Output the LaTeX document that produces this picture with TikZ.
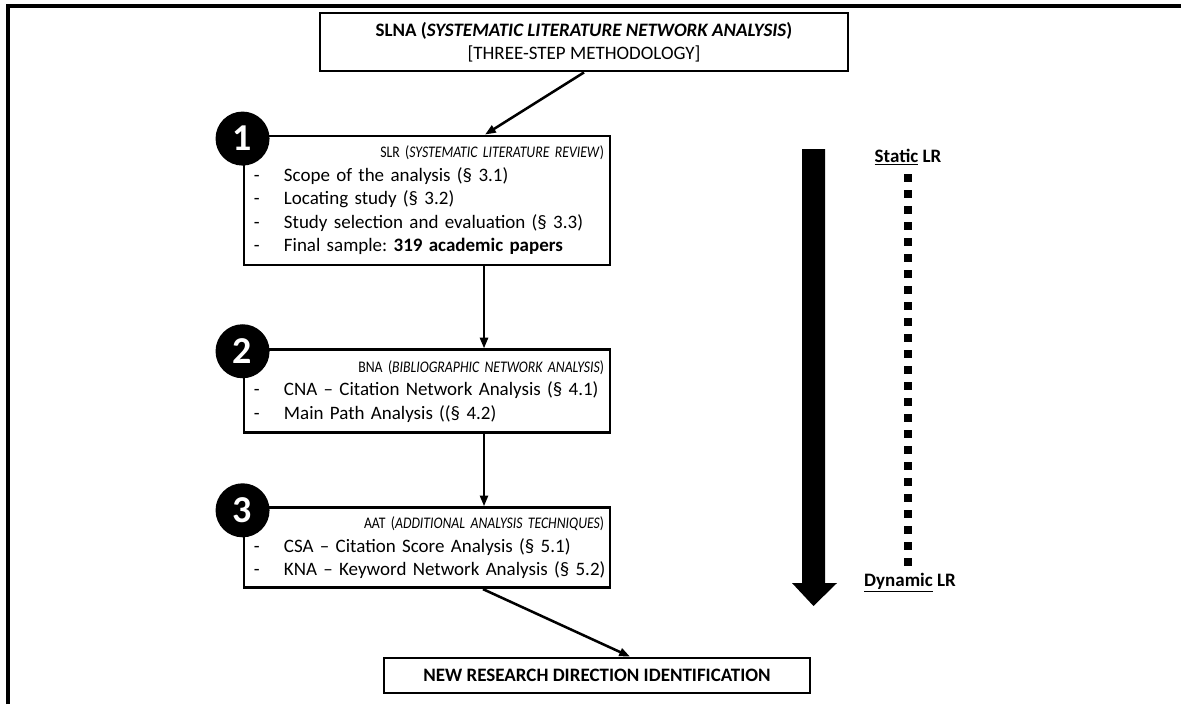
\documentclass[tikz,border=0pt]{standalone}
\usepackage{fontspec}
\setmainfont{Carlito}
\usepackage{tikz}
\usetikzlibrary{arrows.meta, positioning}
\frenchspacing

\newcommand{\stepitem}[1]{\makebox[0.75cm][l]{-}\mbox{#1}}
\newcommand{\stephead}[1]{\makebox[\linewidth][r]{\scalebox{0.85}[1]{\fontsize{11.5}{16.7}\selectfont #1}\hspace*{-0.1cm}}}

\begin{document}
\begin{tikzpicture}[
    x=0.025cm, y=-0.025cm,
    node distance = 2cm,
    font=\fontsize{13.5}{16.7}\selectfont,
    stepbox/.style = {rectangle, draw, line width=2pt, text width=8.65cm, inner xsep=0.25cm, inner ysep=0pt, align=left},
    titlebox/.style = {rectangle, draw, line width=2pt, align=center, inner sep=0pt},
    numdot/.style = {circle, fill=black, text=white, minimum size=1.35cm, inner sep=0pt, font=\fontsize{27}{27}\selectfont\bfseries},
    arrow/.style = {line width=1.8pt, ->, >={Triangle[length=0.27cm, width=0.2cm]}},
    dotline/.style = {line width=0.2cm, dash pattern=on 0.2cm off 0.2cm}
]
    \useasboundingbox (0,0) rectangle (1181,704);

    % Frame
    \draw[line width=2.2pt] (8,704) -- (8,6) -- (1181,6);

    % Methodology title
    \node[titlebox, minimum width=13.2cm, minimum height=1.45cm] (slna) at (584,42)
        {\textbf{SLNA (\textit{SYSTEMATIC LITERATURE NETWORK ANALYSIS})}\\{}[THREE-STEP METHODOLOGY]};

    % The three steps
    \node[stepbox, minimum height=3.225cm] (slr) at (427,200.5)
        {\stephead{SLR (\textit{SYSTEMATIC LITERATURE REVIEW})}\\
         \stepitem{Scope of the analysis (§ 3.1)}\\
         \stepitem{Locating study (§ 3.2)}\\
         \stepitem{Study selection and evaluation (§ 3.3)}\\
         \stepitem{Final sample: \textbf{319 academic papers}}};
    \node[stepbox, minimum height=2.075cm, below=2.05cm of slr] (bna)
        {\stephead{BNA (\textit{BIBLIOGRAPHIC NETWORK ANALYSIS})}\\
         \stepitem{CNA – Citation Network Analysis (§ 4.1)}\\
         \stepitem{Main Path Analysis ((§ 4.2)}};
    \node[stepbox, minimum height=2cm, below=1.8cm of bna] (aat)
        {\stephead{AAT (\textit{ADDITIONAL ANALYSIS TECHNIQUES})}\\
         \stepitem{CSA – Citation Score Analysis (§ 5.1)}\\
         \stepitem{KNA – Keyword Network Analysis (§ 5.2)}};

    % Step numbers
    \node[numdot, yshift=-0.1cm] (one) at (slr.north west) {1};
    \node[numdot, yshift=-0.07cm] (two) at (bna.north west) {2};
    \node[numdot, yshift=-0.1cm] (three) at (aat.north west) {3};

    % Outcome
    \node[titlebox, minimum width=10.65cm, minimum height=0.875cm, font=\fontsize{13.5}{16.7}\selectfont\bfseries] (nrd) at (597,675.5)
        {NEW RESEARCH DIRECTION IDENTIFICATION};

    % Connecting arrows
    \draw[arrow] (slna.south) -- ([xshift=1.45cm]slr.north);
    \draw[arrow] ([xshift=1.425cm]slr.south) -- ([xshift=1.425cm]bna.north);
    \draw[arrow] ([xshift=1.425cm]bna.south) -- ([xshift=1.425cm]aat.north);
    \draw[arrow] ([xshift=1.4cm]aat.south) -- ([xshift=0.825cm]nrd.north);

    % Static to dynamic literature review
    \fill (802,149) -- (825,149) -- (825,583) -- (837,583) -- (813.5,606) -- (792,583) -- (802,583) -- cycle;
    \node[font=\fontsize{13.5}{16.7}\selectfont\bfseries] (static) at (908,157) {\underline{Static} LR};
    \node[font=\fontsize{13.5}{16.7}\selectfont\bfseries] (dynamic) at (910,583) {\underline{Dynamic} LR};
    \coordinate (dtop) at (908,174);
    \coordinate (dbot) at (908,567);
    \draw[dotline] (dtop) -- (dbot);
\end{tikzpicture}
\end{document}
